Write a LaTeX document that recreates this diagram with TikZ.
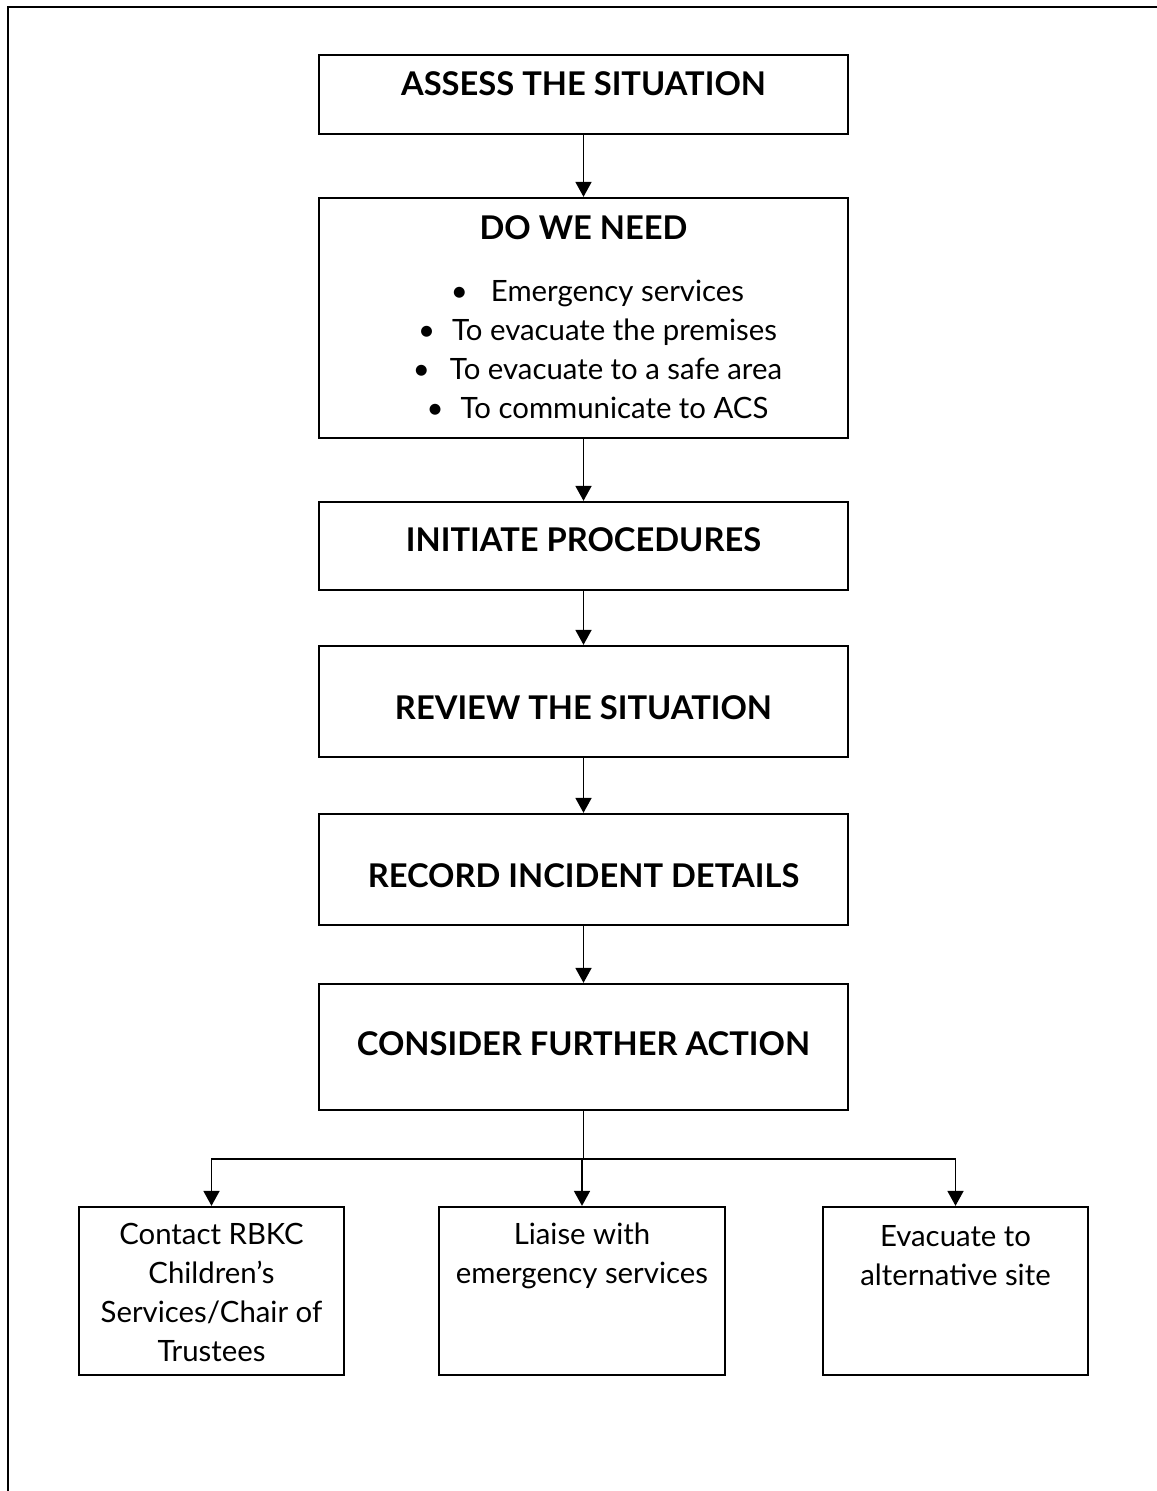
\documentclass[tikz,border=0pt]{standalone}
\usepackage{fontspec}
\setmainfont{Lato}
\usetikzlibrary{arrows.meta}
\tikzstyle{box} = [rectangle, minimum width=10.58cm, draw=black, line width=1.3pt]
\tikzstyle{option} = [rectangle, minimum height=3.36cm, draw=black, line width=1.3pt]
\tikzstyle{head} = [inner sep=0pt, align=center, font=\fontsize{18.6}{22}\selectfont\bfseries]
\tikzstyle{body} = [inner sep=0pt, align=center, font=\fontsize{16.7}{22.2}\selectfont]
\tikzstyle{arrow} = [line width=1pt, -{Triangle[width=0.32cm, length=0.3cm]}]
\tikzstyle{line} = [line width=1pt]
\tikzstyle{frame} = [line width=1.2pt]

\begin{document}
\begin{tikzpicture}
    \useasboundingbox (0,0) rectangle (23.12,-29.82);
    \draw [frame] (0.16,-29.9) |- (23.2,-0.14);

    \node (assess) [box, minimum height=1.58cm] at (11.67,-1.89) {};
    \node (need) [box, minimum height=4.8cm] at (11.67,-6.36) {};
    \node (initiate) [box, minimum height=1.76cm] at (11.67,-10.92) {};
    \node (review) [box, minimum height=2.22cm] at (11.67,-14.03) {};
    \node (record) [box, minimum height=2.22cm] at (11.67,-17.39) {};
    \node (consider) [box, minimum height=2.52cm] at (11.67,-20.94) {};
    \node (contact) [option, minimum width=5.3cm] at (4.23,-25.82) {};
    \node (liaise) [option, minimum width=5.72cm] at (11.64,-25.82) {};
    \node (evacuate) [option, minimum width=5.3cm] at (19.11,-25.82) {};

    \node (assesstxt) [head] at (11.67,-1.68) {ASSESS THE SITUATION};
    \node (needtxt) [head] at (11.67,-4.56) {DO WE NEED};
    \node (needlist) [body] at (11.95,-6.99)
    {\textbullet\hspace{0.46cm}Emergency services\\
     \textbullet\hspace{0.34cm}To evacuate the premises\\
     \textbullet\hspace{0.4cm}To evacuate to a safe area\\
     \textbullet\hspace{0.34cm}To communicate to ACS};
    \node (initiatetxt) [head] at (11.67,-10.80) {INITIATE PROCEDURES};
    \node (reviewtxt) [head] at (11.67,-14.16) {REVIEW THE SITUATION};
    \node (recordtxt) [head] at (11.67,-17.52) {RECORD INCIDENT DETAILS};
    \node (considertxt) [head] at (11.67,-20.88) {CONSIDER FURTHER ACTION};
    \node (contacttxt) [body] at (4.23,-25.85)
    {Contact RBKC\\ Children’s\\ Services/Chair of\\ Trustees};
    \node (liaisetxt) [body] at (11.64,-25.11) {Liaise with\\ emergency services};
    \node (evacuatetxt) [body] at (19.11,-25.11) {Evacuate to\\ alternative site};

    \coordinate (split) at (11.67,-23.18);

    \draw [arrow] (assess) -- (need);
    \draw [arrow] (need) -- (initiate);
    \draw [arrow] (initiate) -- (review);
    \draw [arrow] (review) -- (record);
    \draw [arrow] (record) -- (consider);
    \draw [line] (consider) -- (split);
    \draw [arrow] (split) -| (contact);
    \draw [arrow] (split) -| (liaise);
    \draw [arrow] (split) -| (evacuate);
\end{tikzpicture}
\end{document}
